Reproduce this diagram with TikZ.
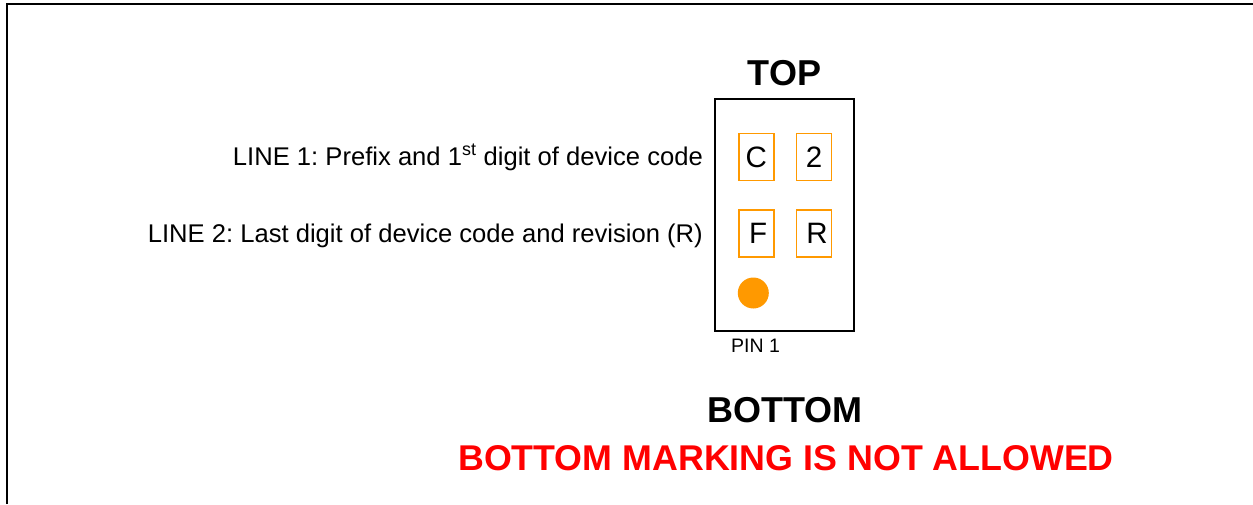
\documentclass[tikz,border=0pt]{standalone}
\usepackage{fontspec}
\setmainfont{Liberation Sans}
\usetikzlibrary{positioning}
\frenchspacing
\definecolor{padorange}{HTML}{FF9900}
\definecolor{warnred}{HTML}{FF0000}
\tikzset{
    pad/.style={draw=padorange,line width=1.8pt,minimum width=35pt,minimum height=47pt,inner sep=0pt,font=\fontsize{29.5}{32}\selectfont},
    linetext/.style={anchor=base east,inner sep=0pt,font=\fontsize{25.6}{30}\selectfont},
    head/.style={anchor=base,inner sep=0pt,font=\fontsize{36}{40}\selectfont\bfseries}
}
\begin{document}
\begin{tikzpicture}[x=1pt,y=-1pt]
    \useasboundingbox (0,0) rectangle (1253,504);
    \draw[line width=2pt] (6.7,504) -- (6.7,4.3) -- (1253,4.3);

    % package outline
    \node[draw,line width=1.4pt,minimum width=139pt,minimum height=232pt,inner sep=0pt] (chip) at (784.5,215) {};
    \node[head] (top) at (784.5,85) {TOP};

    \node[pad] (c) at (756.2,157) {C};
    \node[pad] (two) at (814,157) {2};
    \node[pad] (f) at (756.2,233.3) {\hspace{4pt}F};
    \node[pad] (r) at (814,233.3) {\hspace{6pt}R};

    \fill[padorange] (753.3,293) circle (15.5);
    \node[anchor=base west,inner sep=0pt,font=\fontsize{19.5}{22}\selectfont] (pin) at (731,352.5) {PIN 1};

    \node[linetext] (line1) at (703,165) {LINE 1: Prefix and 1\textsuperscript{st} digit of device code};
    \node[linetext] (line2) at (703,242) {LINE 2: Last digit of device code and revision (R)};

    \node[head] (bottom) at (785,422) {BOTTOM};
    \node[head,text=warnred,font=\fontsize{35.8}{40}\selectfont\bfseries] (warn) at (786,470) {BOTTOM MARKING IS NOT ALLOWED};
\end{tikzpicture}
\end{document}
